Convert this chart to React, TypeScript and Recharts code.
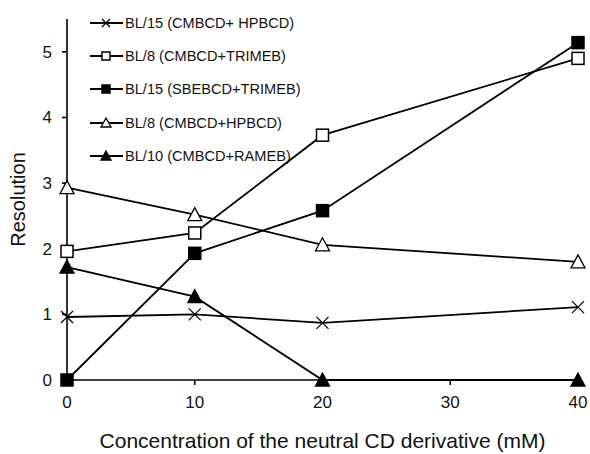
import { Line, LineChart, XAxis, YAxis, Label } from "recharts";

const concentrations = [0, 10, 20, 40];
const bl15Hpbcd = [0.96, 1.0, 0.87, 1.11];
const bl8Trimeb = [1.96, 2.24, 3.73, 4.9];
const bl15Sbebcd = [0, 1.93, 2.58, 5.14];
const bl8Hpbcd = [2.93, 2.52, 2.06, 1.8];
const bl10Rameb = [1.72, 1.27, 0, 0];
const xTicks = [0, 10, 20, 30, 40];
const yTicks = [0, 1, 2, 3, 4, 5];

type Marker = "cross" | "openSquare" | "square" | "openTriangle" | "triangle";

const series: { key: string; name: string; values: number[]; marker: Marker }[] = [
  { key: "a", name: "BL/15 (CMBCD+ HPBCD)", values: bl15Hpbcd, marker: "cross" },
  { key: "b", name: "BL/8 (CMBCD+TRIMEB)", values: bl8Trimeb, marker: "openSquare" },
  { key: "c", name: "BL/15 (SBEBCD+TRIMEB)", values: bl15Sbebcd, marker: "square" },
  { key: "d", name: "BL/8 (CMBCD+HPBCD)", values: bl8Hpbcd, marker: "openTriangle" },
  { key: "e", name: "BL/10 (CMBCD+RAMEB)", values: bl10Rameb, marker: "triangle" },
];

const data = concentrations.map((c, i) => {
  const row: Record<string, number> = { conc: c };
  for (const s of series) row[s.key] = s.values[i];
  return row;
});

const FONT = "'Liberation Sans', Arial, sans-serif";

function MarkerShape({ type, cx, cy, r = 6 }: { type: Marker; cx: number; cy: number; r?: number }) {
  switch (type) {
    case "cross":
      return (
        <g stroke="#000" strokeWidth={1.3}>
          <line x1={cx - r} y1={cy - r} x2={cx + r} y2={cy + r} />
          <line x1={cx - r} y1={cy + r} x2={cx + r} y2={cy - r} />
        </g>
      );
    case "openSquare":
    case "square":
      return (
        <rect
          x={cx - r}
          y={cy - r}
          width={2 * r}
          height={2 * r}
          fill={type === "square" ? "#000" : "#fff"}
          stroke="#000"
          strokeWidth={1.5}
        />
      );
    default:
      return (
        <polygon
          points={`${cx},${cy - r - 1} ${cx - r - 1},${cy + r} ${cx + r + 1},${cy + r}`}
          fill={type === "triangle" ? "#000" : "#fff"}
          stroke="#000"
          strokeWidth={1.3}
        />
      );
  }
}

function makeDot(type: Marker) {
  return (props: any) => (
    <g key={`${type}-${props.index}`}>
      <MarkerShape type={type} cx={props.cx} cy={props.cy} />
    </g>
  );
}

export default function App() {
  const tick = { fontSize: 17, fill: "#111", fontFamily: FONT };
  return (
    <div style={{ position: "fixed", left: 0, top: 0, width: 590, height: 454, background: "#fff" }}>
      <LineChart width={590} height={454} data={data} margin={{ top: 19, right: 12, left: 7, bottom: 2 }}>
        <XAxis
          dataKey="conc"
          type="number"
          domain={[0, 40]}
          ticks={xTicks}
          tick={tick}
          tickSize={5}
          tickMargin={11}
          stroke="#000"
          strokeWidth={1.6}
          height={72}
        >
          <Label
            value="Concentration of the neutral CD derivative (mM)"
            position="insideBottom"
            offset={4}
            style={{ fontSize: 21, fill: "#111", fontFamily: FONT }}
          />
        </XAxis>
        <YAxis
          type="number"
          domain={[0, 5.5]}
          ticks={yTicks}
          tick={tick}
          tickSize={5}
          tickMargin={10}
          stroke="#000"
          strokeWidth={1.6}
          width={60}
        >
          <Label
            value="Resolution"
            angle={-90}
            position="insideLeft"
            offset={11}
            style={{ fontSize: 20, fill: "#111", fontFamily: FONT, textAnchor: "middle" }}
          />
        </YAxis>
        {series.map((s) => (
          <Line
            key={s.key}
            dataKey={s.key}
            name={s.name}
            type="linear"
            stroke="#000"
            strokeWidth={1.8}
            dot={makeDot(s.marker)}
            activeDot={false}
            isAnimationActive={false}
          />
        ))}
      </LineChart>
      <div style={{ position: "absolute", left: 88, top: 6, fontFamily: FONT, fontSize: 14.6, color: "#111" }}>
        {series.map((s) => (
          <div key={s.key} style={{ display: "flex", alignItems: "center", height: 33.3 }}>
            <svg width={36} height={22} style={{ marginRight: 1 }}>
              <line x1={2} y1={11} x2={35} y2={11} stroke="#000" strokeWidth={1.8} />
              <MarkerShape type={s.marker} cx={18} cy={11} r={4} />
            </svg>
            <span>{s.name}</span>
          </div>
        ))}
      </div>
    </div>
  );
}
